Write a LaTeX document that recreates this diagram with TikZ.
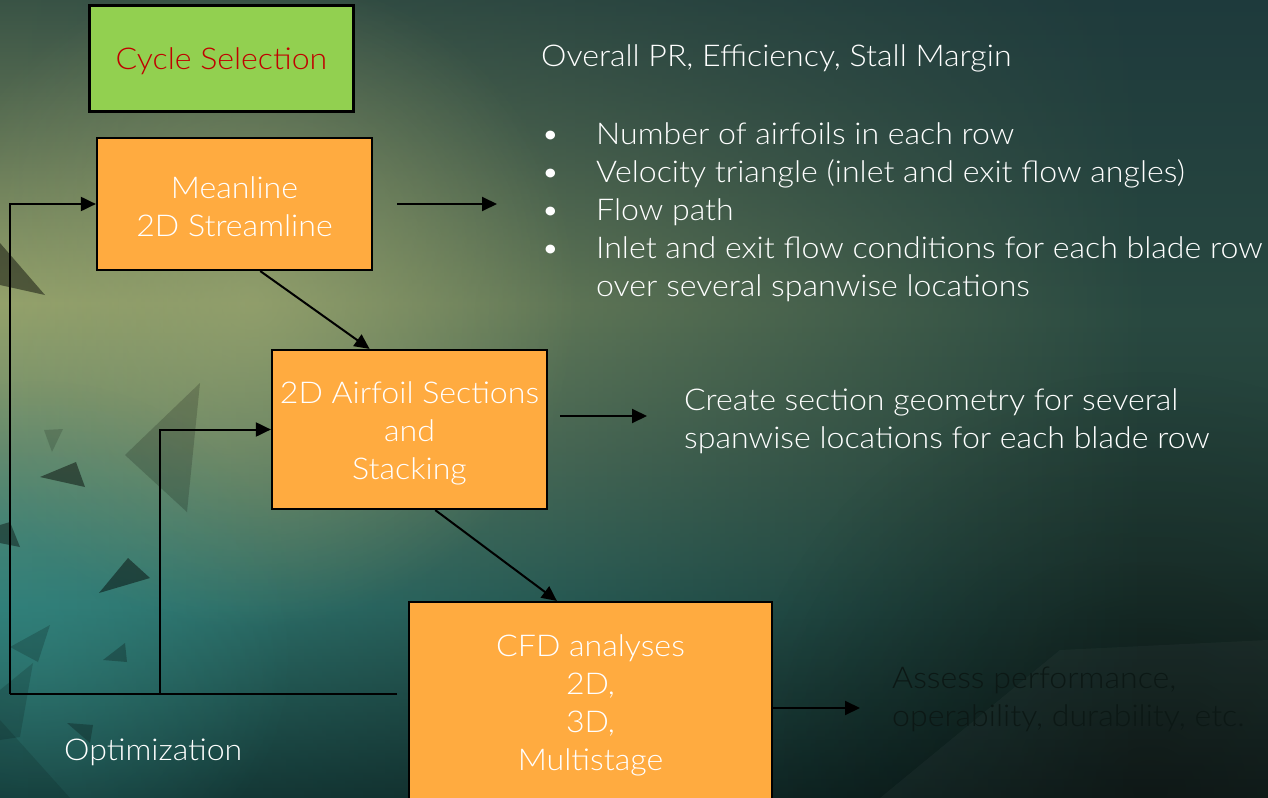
\documentclass[tikz,border=0pt]{standalone}
\usepackage{fontspec}
\setmainfont{Lato Light}[FakeStretch=1.07]
\usetikzlibrary{arrows.meta,calc,fadings}

\definecolor{boxorange}{RGB}{255,171,64}
\definecolor{cyclegreen}{RGB}{146,208,80}
\definecolor{cyclered}{RGB}{192,0,0}
\definecolor{darktext}{RGB}{12,24,21}
\definecolor{olive}{RGB}{163,173,116}
\definecolor{tealglow}{RGB}{52,136,130}

% left-edge colour ramp, top (75bp) to bottom (25bp)
\pgfdeclareverticalshading{leftramp}{100bp}{%
  color(0bp)=(rgb,255:red,22;green,63;blue,61);
  color(25bp)=(rgb,255:red,22;green,63;blue,61);
  color(37bp)=(rgb,255:red,48;green,124;blue,118);
  color(47bp)=(rgb,255:red,104;green,138;blue,108);
  color(56bp)=(rgb,255:red,146;green,160;blue,106);
  color(66bp)=(rgb,255:red,96;green,116;blue,86);
  color(75bp)=(rgb,255:red,58;green,84;blue,70);
  color(100bp)=(rgb,255:red,58;green,84;blue,70)}
% right-edge colour ramp
\pgfdeclareverticalshading{rightramp}{100bp}{%
  color(0bp)=(rgb,255:red,12;green,26;blue,24);
  color(25bp)=(rgb,255:red,12;green,26;blue,24);
  color(40bp)=(rgb,255:red,30;green,56;blue,50);
  color(55bp)=(rgb,255:red,40;green,72;blue,64);
  color(75bp)=(rgb,255:red,30;green,58;blue,60);
  color(100bp)=(rgb,255:red,30;green,58;blue,60)}

\tikzfading[name=fromleft, left color=transparent!0, right color=transparent!100]
\tikzfading[name=glow, inner color=transparent!0, outer color=transparent!100]

\begin{document}
\begin{tikzpicture}[x=1bp, y=-1bp,
  txt/.style={font=\fontsize{30bp}{38bp}\selectfont},
  box/.style={draw=black, line width=2.2bp, fill=boxorange, inner sep=0pt},
  boxtext/.style={txt, text=white, align=center, inner sep=0pt},
  lab/.style={txt, text=white, anchor=base west, inner sep=0pt},
  arr/.style={-{Triangle[length=15bp,width=14bp]}, line width=2bp, draw=black},
  link/.style={line width=2bp, draw=black},
  shard/.style={fill=black, draw=none},
]
\useasboundingbox (0,0) rectangle (1268,798);
\begin{scope}
\clip (0,0) rectangle (1268,798);

% ---------- background ----------
\shade[shading=rightramp] (0,0) rectangle (1268,798);
\shade[shading=leftramp, path fading=fromleft] (0,0) rectangle (1150,798);
\fill[olive, opacity=0.55, path fading=glow] (250,300) circle (330);
\fill[tealglow, opacity=0.45, path fading=glow] (40,640) circle (260);
\fill[black, opacity=0.35, path fading=glow] (1150,790) circle (420);

% scattered shards
\fill[shard, opacity=0.18] (200,383) -- (125,455) -- (187,512) -- cycle;
\fill[shard, opacity=0.15] (44,430) -- (63,429) -- (52,452) -- cycle;
\fill[shard, opacity=0.45] (40,477) -- (76,462) -- (85,487) -- cycle;
\fill[shard, opacity=0.45] (0,243) -- (45,295) -- (0,285) -- cycle;
\fill[shard, opacity=0.40] (0,525) -- (10,522) -- (20,547) -- (0,543) -- cycle;
\fill[shard, opacity=0.45] (99,593) -- (128,558) -- (150,578) -- cycle;
\fill[shard, opacity=0.25] (103,660) -- (125,643) -- (127,662) -- cycle;
\fill[shard, opacity=0.18] (10,647) -- (50,625) -- (38,662) -- cycle;
\fill[shard, opacity=0.15] (0,690) -- (33,663) -- (20,737) -- (0,740) -- cycle;
\fill[shard, opacity=0.25] (67,723) -- (93,725) -- (90,743) -- cycle;
\fill[shard, opacity=0.12] (0,720) -- (70,798) -- (0,798) -- cycle;
\fill[white, opacity=0.03] (880,798) -- (1060,650) -- (1268,640) -- (1268,798) -- cycle;
\end{scope}

% ---------- flow boxes ----------
\node[box, fill=cyclegreen, line width=3bp,
      minimum width=263bp, minimum height=105bp] (cycle) at (221.5,58.5) {};
\node[box, minimum width=275bp, minimum height=132bp] (mean) at (234.5,204) {};
\node[box, minimum width=275bp, minimum height=159bp] (foil) at (409.5,429.5) {};
\node[box, minimum width=363bp, minimum height=204bp] (cfd) at (590.5,704) {};

\node[boxtext, text=cyclered, text height=23bp, text depth=0bp] (cycletext)
      at (cycle.center) {Cycle Selection};
\node[boxtext] (meantext) at ([yshift=-3bp]mean.center) {Meanline\\2D Streamline};
\node[boxtext] (foiltext) at ([yshift=-4bp]foil.center) {2D Airfoil Sections\\and\\Stacking};
\node[boxtext] (cfdtext) at ([yshift=-1bp]cfd.center) {CFD analyses\\2D,\\3D,\\Multistage};

% ---------- outcome texts ----------
\node[lab] (goal) at (541,67) {Overall PR, Efficiency, Stall Margin};
\node[lab] (b1) at (596,144) {Number of airfoils in each row};
\node[lab] (b2) at (596,182) {Velocity triangle (inlet and exit flow angles)};
\node[lab] (b3) at (596,220) {Flow path};
\node[lab] (b4) at (596,258) {Inlet and exit flow conditions for each blade row};
\node[lab] (b5) at (596,296) {over several spanwise locations};
\foreach \y/\n in {144/1,182/2,220/3,258/4}
  \node[lab] (dot\n) at (541,\y) {\textbullet};
\node[lab] (sect1) at (684,410) {Create section geometry for several};
\node[lab] (sect2) at (684,448) {spanwise locations for each blade row};
\node[lab, text=darktext] (perf1) at (892,688) {Assess performance,};
\node[lab, text=darktext] (perf2) at (892,726) {operability, durability, etc.};
\node[lab] (opt) at (64,760) {Optimization};

% ---------- connectors ----------
\coordinate (meanout) at (397,204);
\coordinate (meanend) at (497,204);
\coordinate (foilout) at (560,416);
\coordinate (foilend) at (647,416);
\coordinate (cfdend) at (860,708);
\coordinate (loopstart) at (397,694);
\coordinate (outer) at (10,694);
\coordinate (inner) at (160,694);

\draw[arr] ($(mean.south west)!0.593!(mean.south east)$) -- ($(foil.north west)!0.356!(foil.north east)$);
\draw[arr] ($(foil.south west)!0.593!(foil.south east)$) -- ($(cfd.north west)!0.408!(cfd.north east)$);
\draw[arr] (meanout) -- (meanend);
\draw[arr] (foilout) -- (foilend);
\draw[arr] (cfd.east |- cfdend) -- (cfdend);

% optimisation feedback loops
\draw[link] (loopstart) -- (outer);
\draw[arr] (outer) |- (mean.west);
\draw[arr] (inner) |- (foil.west);
\end{tikzpicture}
\end{document}
